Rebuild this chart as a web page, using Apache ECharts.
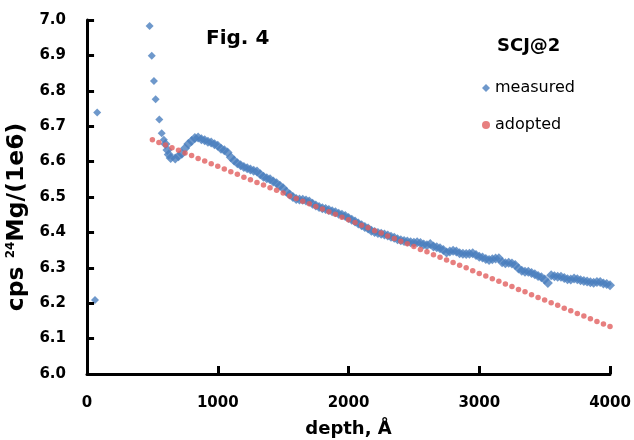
<!DOCTYPE html>
<html><head><meta charset="utf-8">
<script src="https://cdn.jsdelivr.net/npm/echarts@6/dist/echarts.min.js"></script>
<style>html,body{margin:0;padding:0;background:#fff}#c{width:634px;height:440px}</style>
</head><body><div id="c"></div>
<script>
const xTickValues = [0, 1000, 2000, 3000, 4000];
const xTicks = ['0', '1000', '2000', '3000', '4000'];
const yTickValues = [6.0, 6.1, 6.2, 6.3, 6.4, 6.5, 6.6, 6.7, 6.8, 6.9, 7.0];
const yTicks = ['6.0','6.1','6.2','6.3','6.4','6.5','6.6','6.7','6.8','6.9','7.0'];
const seriesNames = ['measured', 'adopted'];

const measuredDepth = [61, 78, 479, 495, 512, 525, 553, 571, 588,
 600, 615, 625, 640, 675, 700, 725, 750, 775, 800, 825, 850, 875, 900, 925, 950, 975,
 1000, 1025, 1050, 1075, 1100, 1125, 1150, 1175, 1200, 1225, 1250, 1275, 1300, 1325, 1350, 1375,
 1400, 1425, 1450, 1475, 1500, 1525, 1550, 1575, 1600, 1625, 1650, 1675, 1700, 1725, 1750, 1775,
 1800, 1825, 1850, 1875, 1900, 1925, 1950, 1975, 2000, 2025, 2050, 2075, 2100, 2125, 2150, 2175,
 2200, 2225, 2250, 2275, 2300, 2325, 2350, 2375, 2400, 2425, 2450, 2475, 2500, 2525, 2550, 2575,
 2600, 2625, 2650, 2675, 2700, 2725, 2750, 2775, 2800, 2825, 2850, 2875, 2900, 2925, 2950, 2975,
 3000, 3025, 3050, 3075, 3100, 3125, 3150, 3175, 3200, 3225, 3250, 3275, 3300, 3325, 3350, 3375,
 3400, 3425, 3450, 3475, 3500, 3525, 3550, 3575, 3600, 3625, 3650, 3675, 3700, 3725, 3750, 3775,
 3800, 3825, 3850, 3875, 3900, 3925, 3950, 3975, 4000];
const measuredValue = [6.209, 6.739, 6.983, 6.899, 6.828, 6.776, 6.719, 6.680, 6.662,
 6.650, 6.633, 6.620, 6.610, 6.609, 6.615, 6.622, 6.638, 6.650, 6.658, 6.667, 6.668, 6.663, 6.660, 6.656, 6.654, 6.649,
 6.645, 6.636, 6.632, 6.626, 6.612, 6.603, 6.595, 6.590, 6.585, 6.581, 6.578, 6.574, 6.572, 6.564, 6.557, 6.553,
 6.550, 6.544, 6.539, 6.532, 6.525, 6.515, 6.507, 6.500, 6.494, 6.493, 6.492, 6.490, 6.487, 6.481, 6.476, 6.472,
 6.468, 6.466, 6.463, 6.460, 6.457, 6.453, 6.450, 6.446, 6.441, 6.436, 6.431, 6.425, 6.420, 6.415, 6.411, 6.405,
 6.401, 6.398, 6.396, 6.394, 6.391, 6.388, 6.385, 6.381, 6.378, 6.376, 6.374, 6.372, 6.371, 6.372, 6.370, 6.366,
 6.364, 6.367, 6.360, 6.358, 6.355, 6.350, 6.343, 6.346, 6.348, 6.346, 6.341, 6.340, 6.339, 6.340, 6.341, 6.336,
 6.331, 6.329, 6.325, 6.322, 6.324, 6.326, 6.327, 6.316, 6.313, 6.314, 6.312, 6.308, 6.298, 6.292, 6.289, 6.289,
 6.285, 6.282, 6.277, 6.273, 6.267, 6.257, 6.279, 6.276, 6.275, 6.275, 6.271, 6.268, 6.267, 6.270, 6.268, 6.265,
 6.263, 6.261, 6.259, 6.258, 6.260, 6.260, 6.256, 6.254, 6.251];

const adoptedDepth = [500, 550, 600, 650, 700, 750, 800, 850, 900, 950,
 1000, 1050, 1100, 1150, 1200, 1250, 1300, 1350, 1400, 1450, 1500, 1550, 1600, 1650, 1700, 1750, 1800, 1850, 1900, 1950,
 2000, 2050, 2100, 2150, 2200, 2250, 2300, 2350, 2400, 2450, 2500, 2550, 2600, 2650, 2700, 2750, 2800, 2850, 2900, 2950,
 3000, 3050, 3100, 3150, 3200, 3250, 3300, 3350, 3400, 3450, 3500, 3550, 3600, 3650, 3700, 3750, 3800, 3850, 3900, 3950, 4000];
const adoptedValue = [6.662, 6.654, 6.647, 6.639, 6.632, 6.624, 6.617, 6.609, 6.602, 6.594,
 6.587, 6.579, 6.571, 6.564, 6.556, 6.549, 6.541, 6.534, 6.526, 6.519, 6.511, 6.503, 6.496, 6.488, 6.481, 6.473, 6.466, 6.458, 6.451, 6.443,
 6.436, 6.428, 6.420, 6.413, 6.405, 6.398, 6.390, 6.383, 6.375, 6.368, 6.360, 6.352, 6.345, 6.337, 6.330, 6.322, 6.315, 6.307, 6.300, 6.292,
 6.284, 6.277, 6.269, 6.262, 6.254, 6.247, 6.239, 6.232, 6.224, 6.216, 6.209, 6.201, 6.194, 6.186, 6.179, 6.171, 6.164, 6.156, 6.148, 6.141, 6.134];

const F = 'DejaVu Sans';
const xMin = xTickValues[0], xMax = xTickValues[xTickValues.length - 1];
const yMin = yTickValues[0], yMax = yTickValues[yTickValues.length - 1];

function xLabel(v) {
  const i = xTickValues.indexOf(Math.round(v));
  return i >= 0 ? xTicks[i] : String(Math.round(v));
}
function yLabel(v) {
  const i = Math.round((v - yMin) * 10);
  return (i >= 0 && i < yTicks.length) ? yTicks[i] : Number(v).toFixed(1);
}

// axis lines and inside ticks, placed through the chart's own scales (backup for the axis line)
const axisMarks = [
  [{coord: [xMin, yMin]}, {coord: [xMin, yMax]}],
  [{coord: [xMin, yMin]}, {coord: [xMax, yMin]}]
];
yTickValues.slice(1).forEach(v => axisMarks.push([{coord: [xMin, v]}, {coord: [xMin + 54, v]}]));
xTickValues.slice(1).forEach(v => axisMarks.push([{coord: [v, yMin]}, {coord: [v, yMin + 0.0226]}]));

const chart = echarts.init(document.getElementById('c'));
chart.setOption({
  animation: false,
  title: [
    {text: 'Fig. 4', left: 201, top: 24, textStyle: {fontFamily: F, fontWeight: 'bold', fontSize: 20, color: '#000'}},
    {text: 'SCJ@2', left: 492, top: 32, textStyle: {fontFamily: F, fontWeight: 'bold', fontSize: 18, color: '#000'}}
  ],
  legend: {
    orient: 'vertical', left: 477, top: 73, itemGap: 17, itemWidth: 8, itemHeight: 8,
    textStyle: {fontFamily: F, fontSize: 16, color: '#000', lineHeight: 20},
    data: [{name: seriesNames[0], icon: 'diamond'}, {name: seriesNames[1], icon: 'circle'}]
  },
  grid: {left: 87, right: 24, top: 20, bottom: 66, containLabel: false, outerBoundsMode: 'none'},
  xAxis: {
    type: 'value', min: xMin, max: xMax, interval: 1000,
    name: 'depth, Å', nameLocation: 'middle', nameGap: 46,
    nameTextStyle: {fontFamily: F, fontWeight: 'bold', fontSize: 18, color: '#000'},
    axisLine: {show: true, onZero: false, lineStyle: {color: '#000', width: 3}},
    axisTick: {show: true, inside: true, length: 8, lineStyle: {color: '#000', width: 3}},
    splitLine: {show: false},
    axisLabel: {fontFamily: F, fontSize: 15, fontWeight: 'bold', color: '#000', margin: 22, formatter: xLabel}
  },
  yAxis: {
    type: 'value', min: yMin, max: yMax, interval: 0.1,
    name: '{a|cps }{s|24}{a|Mg/(1e6)}', nameLocation: 'middle', nameGap: 58,
    nameTextStyle: {padding: [0, 40, 0, 0], rich: {
      a: {fontFamily: F, fontWeight: 'bold', fontSize: 23.5, color: '#000'},
      s: {fontFamily: F, fontWeight: 'bold', fontSize: 12, color: '#000', verticalAlign: 'top', padding: [0, 0, 10, 0]}
    }},
    axisLine: {show: true, onZero: false, lineStyle: {color: '#000', width: 3}},
    axisTick: {show: true, inside: true, length: 7, lineStyle: {color: '#000', width: 3}},
    splitLine: {show: false},
    axisLabel: {fontFamily: F, fontSize: 15, fontWeight: 'bold', color: '#000', margin: 21, formatter: yLabel}
  },
  series: [
    {name: seriesNames[0], type: 'scatter', symbol: 'diamond',
     symbolSize: function (val) { return val[0] >= 590 ? 10 : 8; },
     itemStyle: {color: '#4a7ebe'},
     data: measuredDepth.map((d, i) => [d, measuredValue[i]]),
     markLine: {silent: true, symbol: 'none', animation: false, label: {show: false},
       lineStyle: {color: '#000', width: 3, type: 'solid', opacity: 1},
       emphasis: {disabled: true}, data: axisMarks}},
    {name: seriesNames[1], type: 'scatter', symbol: 'circle', symbolSize: 5.5,
     itemStyle: {color: '#e15f5f'},
     data: adoptedDepth.map((d, i) => [d, adoptedValue[i]])}
  ]
});
</script></body></html>
